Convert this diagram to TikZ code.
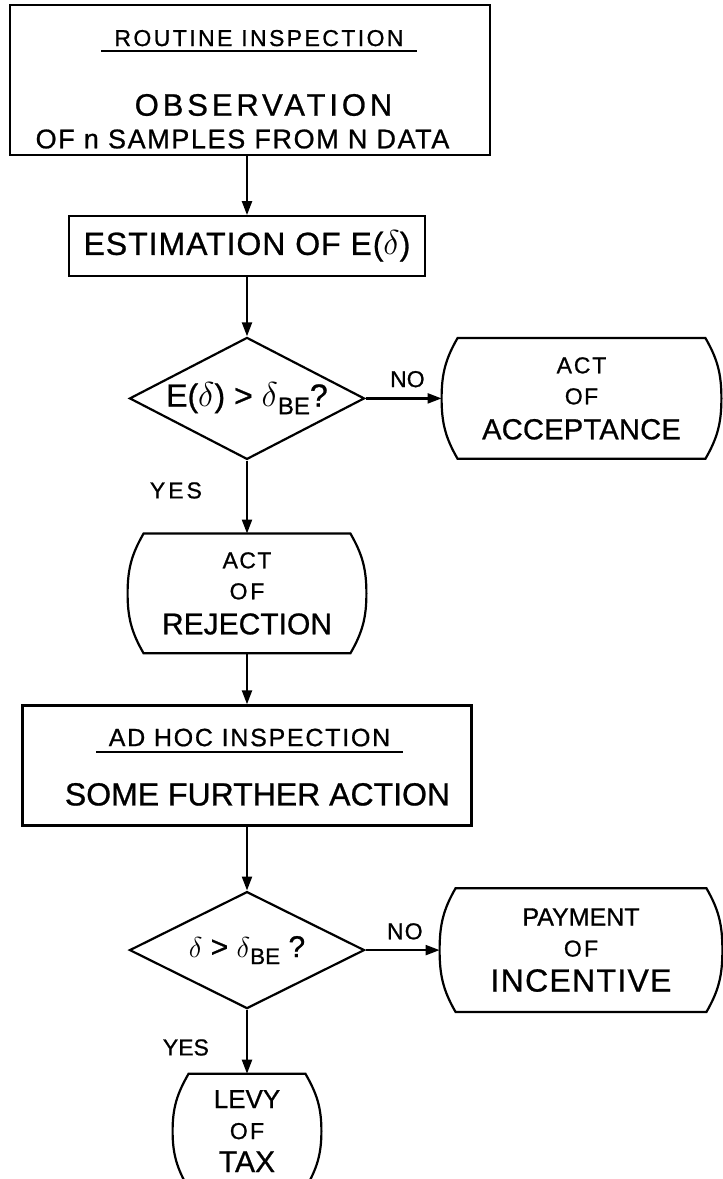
\documentclass[tikz,border=0pt]{standalone}
\usepackage{fontspec}
\setmainfont{Liberation Sans}[FakeBold=0.8]
\usetikzlibrary{positioning,shapes.geometric,arrows.meta,calc}

\newcommand{\sz}[1]{\fontsize{#1}{15.5}\selectfont}
\newcommand{\spaced}[2]{{\addfontfeatures{LetterSpace=#1}#2}}
\newcommand{\dBE}{$\delta$\raisebox{-0.45ex}{\scalebox{0.75}{BE}}}

\tikzset{
  x=0.5pt, y=-0.5pt,
  every node/.style={inner sep=0pt},
  flow/.style={-{Triangle[length=7pt,width=5pt]}, line width=1.1pt},
  procbox/.style={draw, line width=1.1pt, rectangle},
  decision/.style={draw, line width=1.1pt, diamond, aspect=1.9},
  terminal/.style={rectangle, align=center, font=\sz{11.5}},
  lbl/.style={font=\sz{11.5}},
}

\begin{document}
\begin{tikzpicture}
\useasboundingbox (0,0) rectangle (723,1179);
% routine inspection
\node[procbox, minimum width=240pt, minimum height=75pt] (obs) at (250,80) {};
\node[font=\sz{11.5}, inner xsep=6.5pt, inner ysep=2.2pt, text depth=0pt] (routine)
  at ($(obs.center)+(9,-42)$) {\spaced{10.5}{ROUTINE INSPECTION}};
\draw[line width=1.1pt] (routine.south west) -- (routine.south east);
\node[font=\sz{15.5}] (observ) at ($(obs.center)+(13.5,25)$) {\spaced{12.5}{OBSERVATION}};
\node[font=\sz{13.5}] (samples) at ($(obs.center)+(-7.5,59)$) {\spaced{6}{OF n SAMPLES FROM N DATA}};

\node[procbox, minimum width=178pt, minimum height=30pt, font=\sz{16},
  below=29.5pt of obs, xshift=-1.5pt] (estim) {\spaced{3}{ESTIMATION OF E($\delta$)}};
\node[decision, minimum width=117.5pt, minimum height=61pt, font=\sz{16},
  below=29.5pt of estim] (dec1) {E($\delta$) > \dBE?};
\node[terminal, minimum width=139.5pt, minimum height=60pt, right=38pt of dec1] (accept)
  {\spaced{8}{ACT}\\ \spaced{6}{OF}\\[2pt] {\sz{14.5}\spaced{1}{ACCEPTANCE}}};
\node[terminal, minimum width=119pt, minimum height=59.5pt, below=36.5pt of dec1] (reject)
  {\spaced{6}{ACT}\\ \spaced{12}{OF}\\[2pt] {\sz{15}REJECTION}};

% ad hoc inspection
\node[procbox, minimum width=224.5pt, minimum height=60pt, below=25.5pt of reject] (adhoc) {};
\node[font=\sz{12.5}, inner xsep=6pt, inner ysep=2.75pt, text depth=0pt] (adhoctitle)
  at ($(adhoc.center)+(2.5,-28)$) {\spaced{7}{AD HOC INSPECTION}};
\draw[line width=1.1pt] (adhoctitle.south west) -- (adhoctitle.south east);
\node[font=\sz{16}] (further) at ($(adhoc.center)+(10.5,29)$) {SOME FURTHER ACTION};

\node[decision, minimum width=117.5pt, minimum height=58.5pt, font=\sz{15},
  below=32pt of adhoc] (dec2) {$\delta$ > \dBE\ ?};
\node[terminal, minimum width=141pt, minimum height=61.5pt, right=37pt of dec2] (payment)
  {{\sz{12.5}PAYMENT}\\ \spaced{10}{OF}\\[2pt] {\sz{16}\spaced{4}{INCENTIVE}}};
\node[terminal, minimum width=74pt, minimum height=57pt, below=32pt of dec2] (levy)
  {{\sz{13}LEVY}\\ \spaced{10}{OF}\\[1pt] {\sz{15}TAX}};

% terminal outlines
\foreach \t in {accept,reject,payment,levy}
  \draw[line width=1.1pt] ([xshift=8pt]\t.north west) -- ([xshift=-8pt]\t.north east)
    to[out=-60,in=90] (\t.east) to[out=-90,in=60] ([xshift=-8pt]\t.south east)
    -- ([xshift=8pt]\t.south west) to[out=120,in=-90] (\t.west)
    to[out=90,in=-120] ([xshift=8pt]\t.north west) -- cycle;

% connectors
\draw[flow] (estim.north |- obs.south) -- (estim.north);
\draw[flow] (estim.south) -- (dec1.north);
\draw[flow] (dec1.east) -- node[lbl, above=5pt, pos=0.55] {NO} (accept.west);
\draw[flow] (dec1.south) -- node[lbl, left=22pt, pos=0.41] {\spaced{13}{YES}} (reject.north);
\draw[flow] (reject.south) -- (adhoc.north);
\draw[flow] (adhoc.south) -- (dec2.north);
\draw[flow] (dec2.east) -- node[lbl, above=4.75pt, pos=0.53] {\spaced{5}{NO}} (payment.west);
\draw[flow] (dec2.south) -- node[lbl, left=18.5pt, pos=0.59] {YES} (levy.north);
\end{tikzpicture}
\end{document}
